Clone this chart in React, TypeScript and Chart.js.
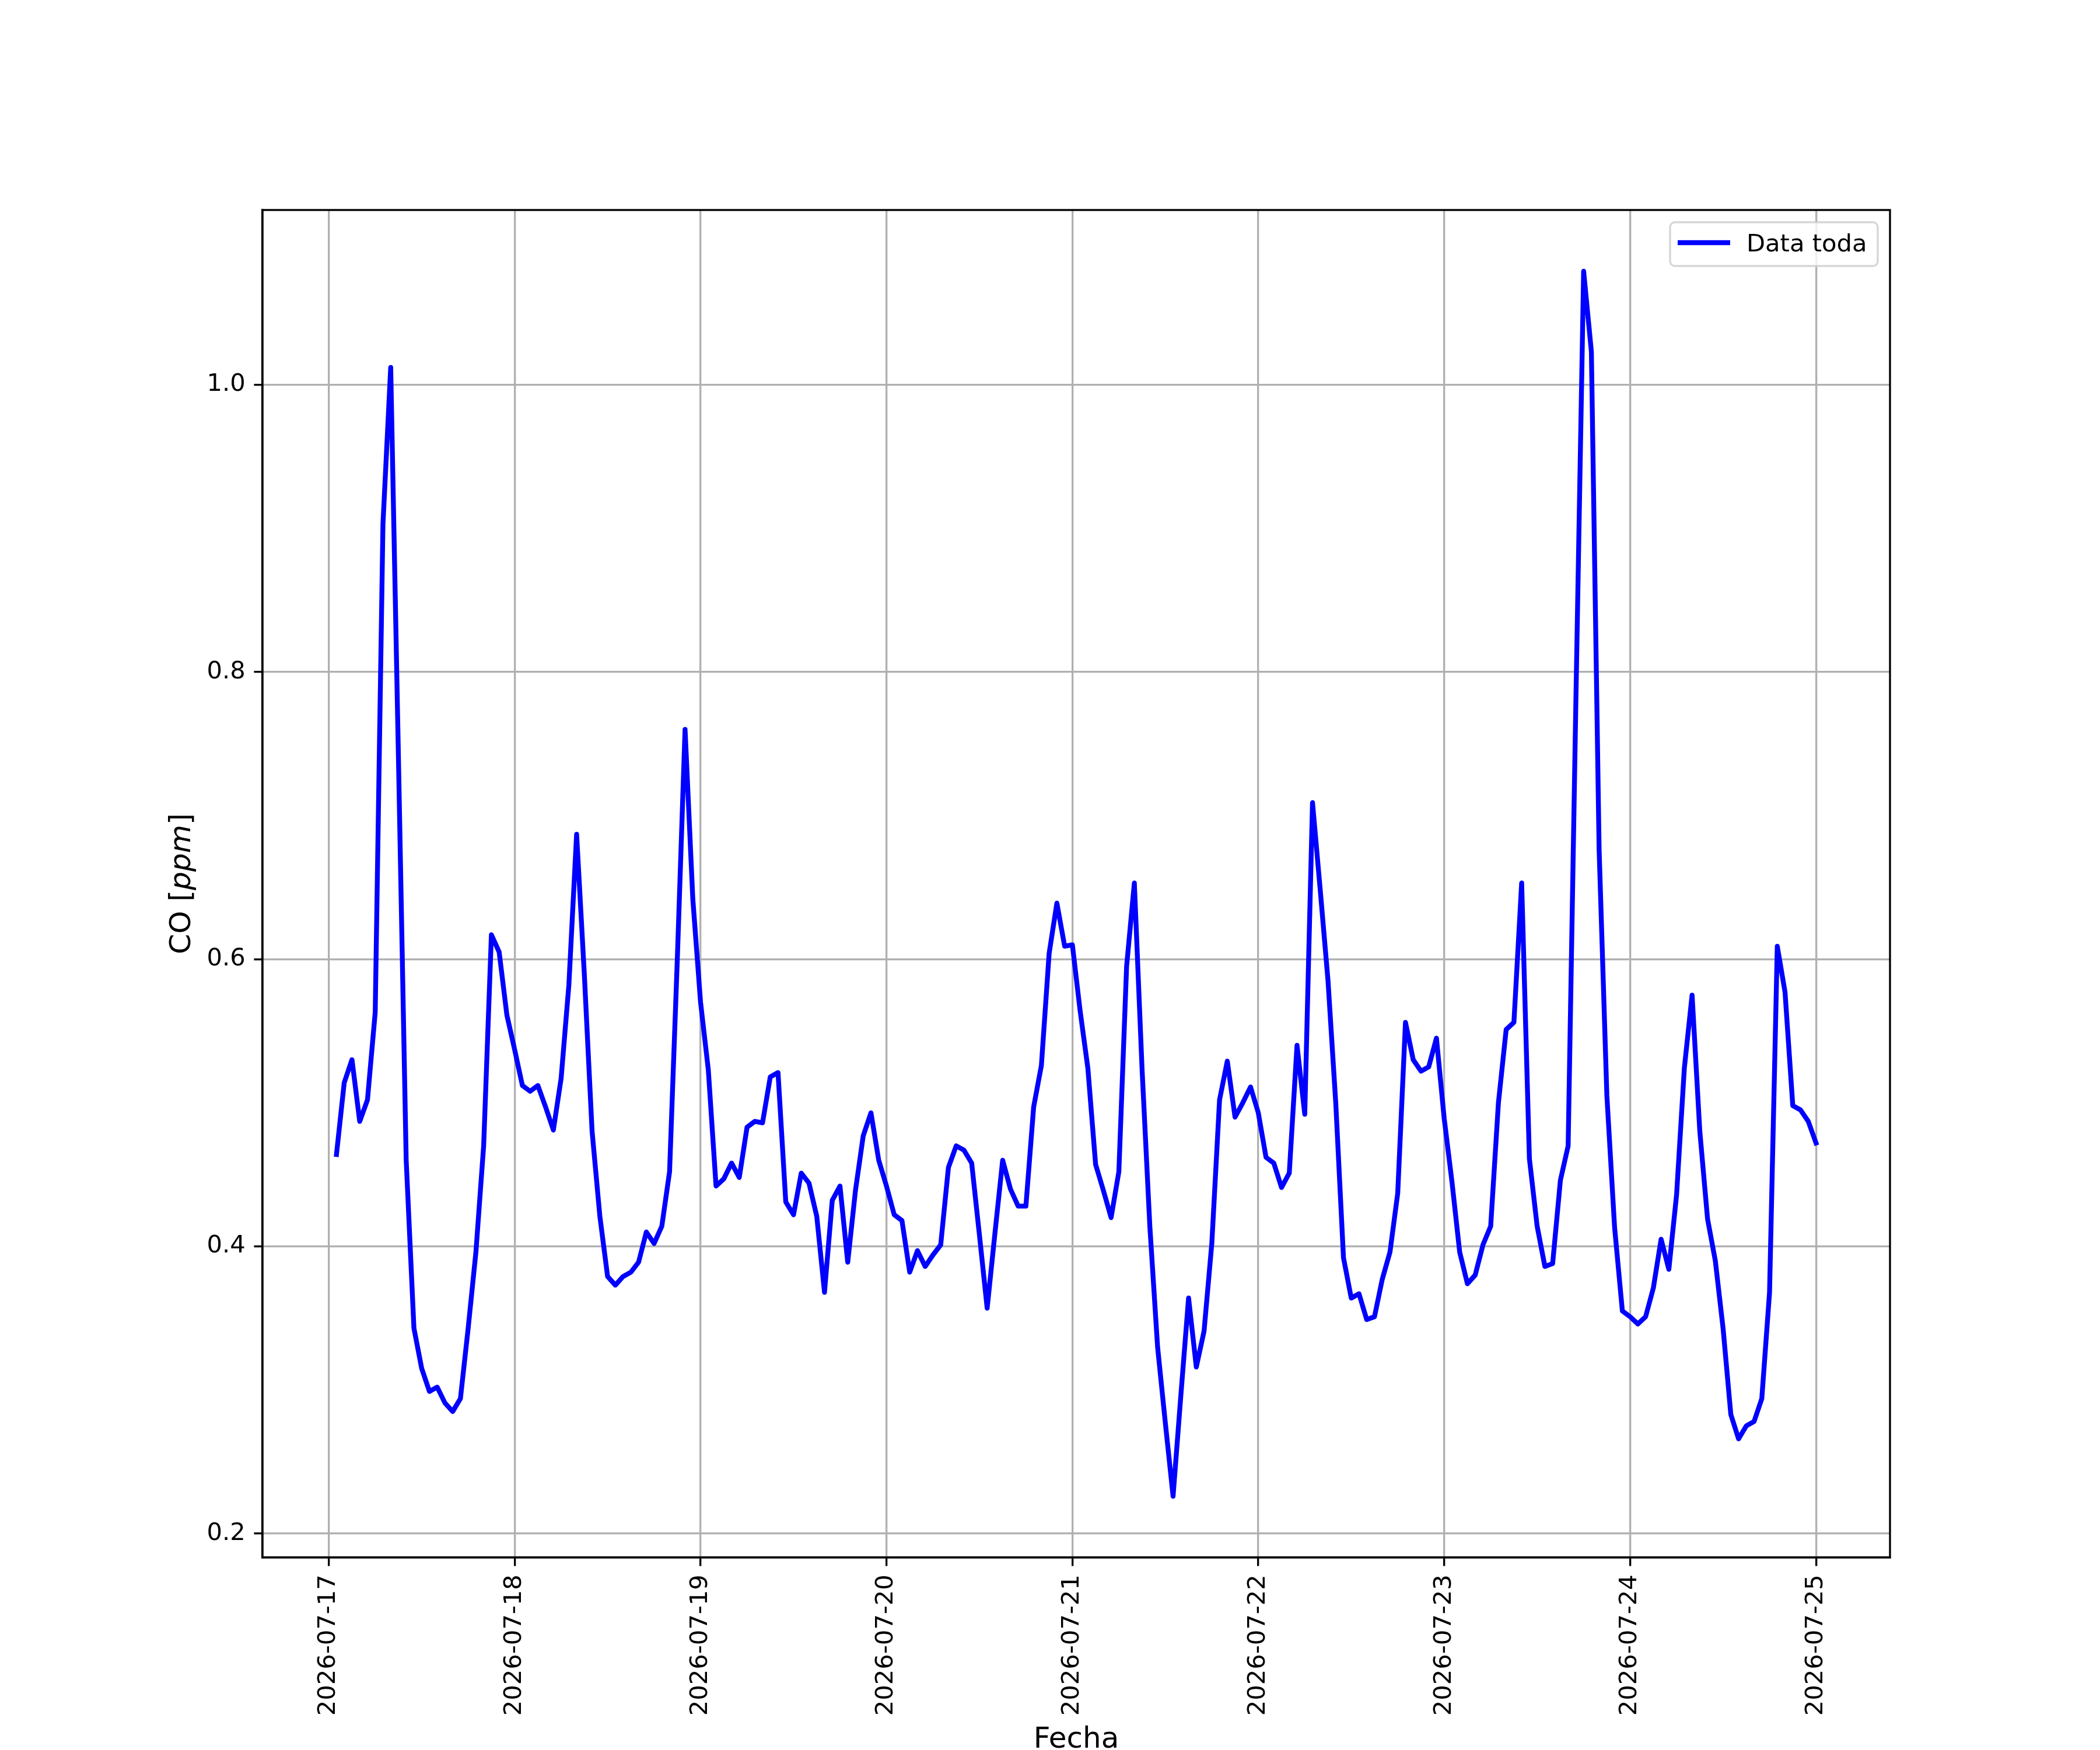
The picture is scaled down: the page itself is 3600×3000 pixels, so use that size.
import React, { useEffect, useRef } from "react";
import { Chart, registerables } from "chart.js";

Chart.register(...registerables);

// Hourly CO readings, first at 2026-07-17 01:00, last at 2026-07-25 00:00
const CO_PPM: number[] = [
  0.464, 0.514, 0.530, 0.487, 0.502, 0.563, 0.903, 1.012, 0.740, 0.460, 0.343, 0.315,
  0.299, 0.302, 0.291, 0.285, 0.294, 0.343, 0.396, 0.470, 0.617, 0.605, 0.561, 0.537,
  0.512, 0.508, 0.512, 0.497, 0.481, 0.517, 0.582, 0.687, 0.589, 0.480, 0.421, 0.379,
  0.373, 0.379, 0.382, 0.389, 0.410, 0.402, 0.414, 0.452, 0.600, 0.760, 0.642, 0.570,
  0.523, 0.442, 0.447, 0.458, 0.448, 0.483, 0.487, 0.486, 0.518, 0.521, 0.431, 0.422,
  0.451, 0.444, 0.421, 0.368, 0.432, 0.442, 0.389, 0.439, 0.477, 0.493, 0.460, 0.442,
  0.422, 0.418, 0.382, 0.397, 0.386, 0.394, 0.401, 0.455, 0.470, 0.467, 0.458, 0.408,
  0.357, 0.409, 0.460, 0.440, 0.428, 0.428, 0.497, 0.526, 0.604, 0.639, 0.609, 0.610,
  0.564, 0.524, 0.457, 0.439, 0.420, 0.452, 0.595, 0.653, 0.523, 0.414, 0.330, 0.277,
  0.226, 0.296, 0.364, 0.316, 0.341, 0.402, 0.502, 0.529, 0.490, 0.500, 0.511, 0.493,
  0.462, 0.458, 0.441, 0.451, 0.540, 0.492, 0.709, 0.648, 0.585, 0.500, 0.392, 0.364,
  0.367, 0.349, 0.351, 0.377, 0.396, 0.437, 0.556, 0.530, 0.522, 0.525, 0.545, 0.489,
  0.445, 0.396, 0.374, 0.380, 0.401, 0.414, 0.500, 0.551, 0.556, 0.653, 0.461, 0.414,
  0.386, 0.388, 0.446, 0.470, 0.780, 1.079, 1.023, 0.676, 0.505, 0.413, 0.355, 0.351,
  0.346, 0.351, 0.371, 0.405, 0.384, 0.436, 0.524, 0.575, 0.480, 0.419, 0.390, 0.343,
  0.283, 0.266, 0.275, 0.278, 0.294, 0.368, 0.609, 0.577, 0.498, 0.495, 0.487, 0.472,
];

// hours since 2026-07-17 00:00 for each reading (hourly series starting at 01:00)
const HOURS: number[] = CO_PPM.map((_, i) => i + 1);

const DATE_LABELS: string[] = [
  "2026-07-17", "2026-07-18", "2026-07-19", "2026-07-20", "2026-07-21",
  "2026-07-22", "2026-07-23", "2026-07-24", "2026-07-25",
];
const DATE_TICK_HOURS: number[] = [0, 24, 48, 72, 96, 120, 144, 168, 192];
const Y_TICKS: number[] = [0.2, 0.4, 0.6, 0.8, 1.0];

const SERIES_LABEL = "Data toda";
const X_TITLE = "Fecha";

const W = 3600;
const H = 3000;
const PT = 300 / 72;
const FONT = '"DejaVu Sans"';
const TICK_SIZE = 10 * PT;
const LABEL_SIZE = 12 * PT;

export default function App() {
  const ref = useRef<HTMLCanvasElement | null>(null);

  useEffect(() => {
    const canvas = ref.current;
    if (!canvas) return;

    const xMinData = HOURS[0];
    const xMaxData = HOURS[HOURS.length - 1];
    const xPad = (xMaxData - xMinData) * 0.05;
    const yMinData = Math.min(...CO_PPM);
    const yMaxData = Math.max(...CO_PPM);
    const yPad = (yMaxData - yMinData) * 0.05;

    const decor = {
      id: "mplDecor",
      afterDatasetsDraw(chart: any) {
        const { ctx, chartArea } = chart;
        const { left, right, top, bottom } = chartArea;
        ctx.save();
        // spines
        ctx.strokeStyle = "#000";
        ctx.lineWidth = 0.8 * PT;
        ctx.lineJoin = "miter";
        ctx.strokeRect(left, top, right - left, bottom - top);

        // legend
        const bx = 2863, by = 381, bw = 356, bh = 75;
        ctx.beginPath();
        (ctx as any).roundRect(bx, by, bw, bh, 0.2 * TICK_SIZE);
        ctx.fillStyle = "rgba(255,255,255,0.8)";
        ctx.fill();
        ctx.strokeStyle = "rgba(204,204,204,0.8)";
        ctx.lineWidth = 0.8 * PT;
        ctx.stroke();

        ctx.beginPath();
        ctx.moveTo(2876, 416);
        ctx.lineTo(2966, 416);
        ctx.strokeStyle = "#0000ff";
        ctx.lineWidth = 2 * PT;
        ctx.lineCap = "butt";
        ctx.stroke();

        ctx.fillStyle = "#000";
        ctx.font = `${TICK_SIZE}px ${FONT}`;
        ctx.textAlign = "left";
        ctx.textBaseline = "alphabetic";
        ctx.fillText(SERIES_LABEL, 2994, 431);

        // x title
        ctx.font = `${LABEL_SIZE}px ${FONT}`;
        ctx.textAlign = "center";
        ctx.fillText(X_TITLE, (left + right) / 2, 2996);

        // y title: "CO [ppm]" with italic ppm
        const parts: [string, string][] = [
          ["CO [", `${LABEL_SIZE}px ${FONT}`],
          ["ppm", `italic ${LABEL_SIZE}px ${FONT}`],
          ["]", `${LABEL_SIZE}px ${FONT}`],
        ];
        let total = 0;
        const widths = parts.map(([t, f]) => {
          ctx.font = f;
          const w = ctx.measureText(t).width;
          total += w;
          return w;
        });
        ctx.translate(326, (top + bottom) / 2);
        ctx.rotate(-Math.PI / 2);
        ctx.textAlign = "left";
        let cx = -total / 2;
        parts.forEach(([t, f], i) => {
          ctx.font = f;
          ctx.fillText(t, cx, 0);
          cx += widths[i];
        });
        ctx.restore();
      },
    };

    const chart = new Chart(canvas, {
      type: "line",
      data: {
        datasets: [
          {
            label: SERIES_LABEL,
            data: HOURS.map((h, i) => ({ x: h, y: CO_PPM[i] })),
            borderColor: "#0000ff",
            backgroundColor: "#0000ff",
            borderWidth: 2 * PT,
            pointRadius: 0,
            tension: 0,
            fill: false,
            borderJoinStyle: "round",
            borderCapStyle: "square",
          },
        ],
      },
      options: {
        animation: false,
        responsive: false,
        devicePixelRatio: 1,
        events: [],
        layout: { padding: { left: 0, top: 360, right: 360, bottom: 0 } },
        plugins: {
          legend: { display: false },
          tooltip: { enabled: false },
          title: { display: false },
        },
        scales: {
          x: {
            type: "linear",
            min: xMinData - xPad,
            max: xMaxData + xPad,
            afterBuildTicks: (s: any) => {
              s.ticks = DATE_TICK_HOURS.map((v) => ({ value: v }));
            },
            afterFit: (s: any) => {
              s.height = 330;
            },
            ticks: {
              autoSkip: false,
              minRotation: 90,
              maxRotation: 90,
              padding: 3.5 * PT,
              color: "#000",
              font: { family: "DejaVu Sans", size: TICK_SIZE },
              callback: (v: any) => {
                const idx = DATE_TICK_HOURS.indexOf(Number(v));
                return idx >= 0 ? DATE_LABELS[idx] : "";
              },
            },
            grid: {
              color: "#b0b0b0",
              lineWidth: 0.8 * PT,
              tickLength: 3.5 * PT,
              tickColor: "#000",
              tickWidth: 0.8 * PT,
            },
            border: { display: true, color: "#000", width: 0.8 * PT },
          },
          y: {
            type: "linear",
            min: yMinData - yPad,
            max: yMaxData + yPad,
            afterBuildTicks: (s: any) => {
              s.ticks = Y_TICKS.map((v) => ({ value: v }));
            },
            afterFit: (s: any) => {
              s.width = 450;
            },
            ticks: {
              padding: 3.5 * PT,
              color: "#000",
              font: { family: "DejaVu Sans", size: TICK_SIZE },
              callback: (v: any) => Number(v).toFixed(1),
            },
            grid: {
              color: "#b0b0b0",
              lineWidth: 0.8 * PT,
              tickLength: 3.5 * PT,
              tickColor: "#000",
              tickWidth: 0.8 * PT,
            },
            border: { display: true, color: "#000", width: 0.8 * PT },
          },
        },
      },
      plugins: [decor],
    } as any);

    return () => {
      chart.destroy();
    };
  }, []);

  return (
    <div style={{ position: "absolute", left: 0, top: 0, width: W, height: H, background: "#fff" }}>
      <canvas ref={ref} width={W} height={H} style={{ width: W, height: H, display: "block" }} />
    </div>
  );
}
